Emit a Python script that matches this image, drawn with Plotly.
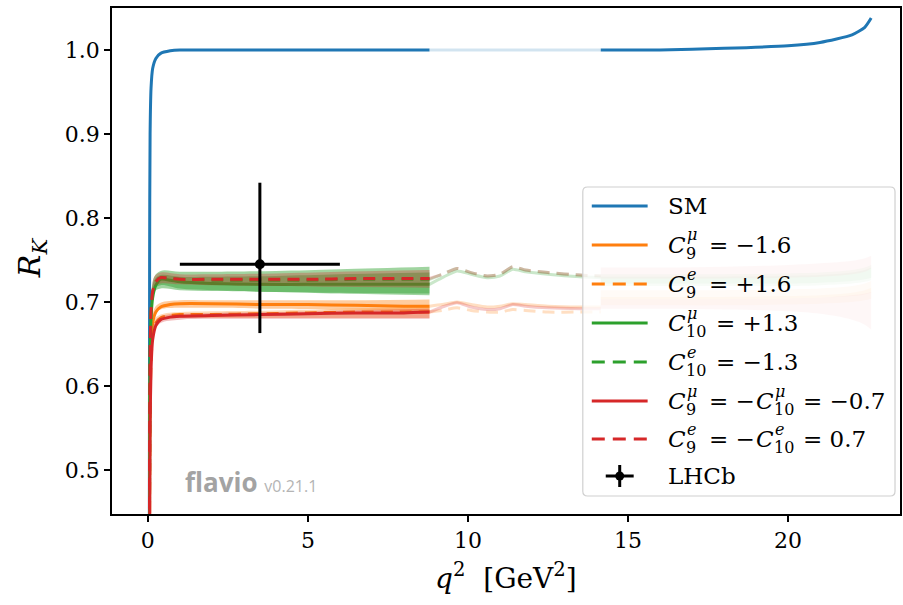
import plotly.graph_objects as go

# ---------------- data ----------------
# low-q2 region (solid lines with bands)
q2_low = [0.045, 0.055, 0.07, 0.1, 0.15, 0.25, 0.4, 0.7, 1.0, 2.0, 3.5, 5.0, 6.5, 8.0, 8.8]
sm_low = [0.35, 0.75, 0.90, 0.955, 0.978, 0.990, 0.996, 0.999, 1.0, 1.0, 1.0, 1.0, 1.0, 1.0, 1.0]
c9mu_low = [0.22, 0.48, 0.60, 0.65, 0.675, 0.688, 0.694, 0.697, 0.698, 0.698, 0.697, 0.697, 0.696, 0.695, 0.695]
c9e_low = [0.20, 0.45, 0.57, 0.63, 0.660, 0.675, 0.681, 0.684, 0.685, 0.685, 0.686, 0.687, 0.688, 0.688, 0.688]
c10mu_low = [0.25, 0.52, 0.63, 0.68, 0.705, 0.720, 0.727, 0.726, 0.724, 0.722, 0.721, 0.721, 0.721, 0.721, 0.721]
c10e_low = [0.25, 0.52, 0.64, 0.69, 0.712, 0.724, 0.729, 0.728, 0.727, 0.726, 0.726, 0.726, 0.727, 0.727, 0.727]
lh_mu_low = [0.15, 0.40, 0.55, 0.62, 0.655, 0.672, 0.679, 0.682, 0.683, 0.684, 0.685, 0.686, 0.687, 0.687, 0.688]
lh_e_low = [0.25, 0.52, 0.64, 0.69, 0.712, 0.724, 0.729, 0.728, 0.727, 0.727, 0.727, 0.727, 0.728, 0.728, 0.728]

# uncertainty bands in the low-q2 region
q2_band = [0.1, 0.2, 0.4, 1.0, 2.0, 4.0, 6.0, 8.8]
c9mu_lo = [0.640, 0.684, 0.691, 0.693, 0.693, 0.692, 0.691, 0.689]
c9mu_hi = [0.660, 0.692, 0.699, 0.702, 0.702, 0.702, 0.702, 0.703]
c9e_lo = [0.620, 0.672, 0.679, 0.681, 0.681, 0.681, 0.681, 0.681]
c9e_hi = [0.640, 0.679, 0.685, 0.688, 0.689, 0.690, 0.692, 0.694]
c10mu_lo = [0.670, 0.712, 0.716, 0.714, 0.713, 0.712, 0.711, 0.710]
c10mu_hi = [0.690, 0.726, 0.732, 0.730, 0.730, 0.731, 0.733, 0.735]
c10e_lo = [0.680, 0.715, 0.720, 0.716, 0.714, 0.712, 0.710, 0.708]
c10e_hi = [0.700, 0.730, 0.737, 0.736, 0.736, 0.737, 0.739, 0.742]
lh_mu_lo = [0.610, 0.666, 0.675, 0.679, 0.680, 0.680, 0.680, 0.680]
lh_mu_hi = [0.630, 0.675, 0.683, 0.686, 0.687, 0.688, 0.690, 0.692]
lh_e_lo = [0.680, 0.718, 0.722, 0.721, 0.720, 0.719, 0.718, 0.717]
lh_e_hi = [0.700, 0.730, 0.735, 0.733, 0.733, 0.734, 0.736, 0.738]

# resonance region (faded central values)
q2_res = [8.8, 9.2, 9.66, 10.1, 10.6, 11.0, 11.4, 11.8, 12.5, 13.5, 14.15]
sm_res = [1.0, 1.0, 1.0, 1.0, 1.0, 1.0, 1.0, 1.0, 1.0, 1.0, 1.0]
c9mu_res = [0.695, 0.697, 0.700, 0.697, 0.694, 0.695, 0.698, 0.697, 0.695, 0.694, 0.694]
c9e_res = [0.688, 0.690, 0.693, 0.690, 0.688, 0.688, 0.691, 0.690, 0.688, 0.688, 0.688]
c10mu_res = [0.721, 0.729, 0.737, 0.733, 0.729, 0.731, 0.739, 0.736, 0.733, 0.730, 0.729]
c10e_res = [0.727, 0.733, 0.740, 0.735, 0.731, 0.733, 0.742, 0.738, 0.735, 0.732, 0.731]
lh_mu_res = [0.688, 0.694, 0.699, 0.694, 0.691, 0.692, 0.697, 0.695, 0.693, 0.692, 0.692]
lh_e_res = [0.728, 0.733, 0.740, 0.735, 0.731, 0.733, 0.742, 0.738, 0.735, 0.732, 0.731]

# high-q2 region
q2_high = [14.15, 16.0, 18.0, 20.0, 21.0, 22.0, 22.4, 22.6]
sm_high = [1.0, 1.0, 1.002, 1.005, 1.009, 1.018, 1.027, 1.038]
c9mu_hlo = [0.703, 0.703, 0.703, 0.704, 0.705, 0.707, 0.709, 0.711]
c9mu_hhi = [0.714, 0.714, 0.714, 0.715, 0.716, 0.719, 0.722, 0.725]
c9e_hlo = [0.696, 0.696, 0.696, 0.697, 0.698, 0.700, 0.702, 0.704]
c9e_hhi = [0.706, 0.706, 0.706, 0.707, 0.708, 0.711, 0.714, 0.717]
c10mu_hlo = [0.719, 0.719, 0.719, 0.719, 0.720, 0.722, 0.724, 0.726]
c10mu_hhi = [0.730, 0.730, 0.730, 0.731, 0.732, 0.735, 0.738, 0.741]
c10e_hlo = [0.722, 0.722, 0.722, 0.722, 0.723, 0.725, 0.727, 0.729]
c10e_hhi = [0.733, 0.733, 0.733, 0.734, 0.735, 0.738, 0.741, 0.744]
lh_mu_hlo = [0.692, 0.692, 0.691, 0.689, 0.686, 0.679, 0.673, 0.667]
lh_mu_hhi = [0.703, 0.703, 0.703, 0.704, 0.705, 0.708, 0.710, 0.712]
lh_e_hlo = [0.728, 0.728, 0.728, 0.729, 0.730, 0.733, 0.736, 0.740]
lh_e_hhi = [0.741, 0.741, 0.742, 0.744, 0.746, 0.749, 0.752, 0.755]

# LHCb measurement in the [1, 6] GeV^2 bin
lhcb_q2 = [3.5]
lhcb_q2_halfwidth = [2.5]
lhcb_rk = [0.745]
lhcb_err_plus = [0.097]
lhcb_err_minus = [0.082]

x_ticks = [0, 5, 10, 15, 20]
y_ticks = [0.5, 0.6, 0.7, 0.8, 0.9, 1.0]

BLUE = (31, 119, 180)
ORANGE = (255, 127, 14)
GREEN = (44, 160, 44)
RED = (214, 39, 40)


def rgba(c, a):
    return f"rgba({c[0]},{c[1]},{c[2]},{a})"


fig = go.Figure()
LW = 3
DASH = "12px,7px"


def add_band(x, lo, hi, color, alpha):
    fig.add_trace(go.Scatter(x=x, y=lo, mode="lines", line=dict(width=0, shape="spline"),
                             hoverinfo="skip", showlegend=False))
    fig.add_trace(go.Scatter(x=x, y=hi, mode="lines", line=dict(width=0, shape="spline"),
                             fill="tonexty", fillcolor=rgba(color, alpha),
                             hoverinfo="skip", showlegend=False))


def add_line(x, y, color, alpha, dash="solid"):
    fig.add_trace(go.Scatter(x=x, y=y, mode="lines",
                             line=dict(color=rgba(color, alpha), width=LW, dash=dash, shape="spline",
                                       smoothing=0.6),
                             hoverinfo="skip", showlegend=False))


# Standard Model
add_line(q2_low, sm_low, BLUE, 1)
add_line(q2_res, sm_res, BLUE, 0.2)
add_line(q2_high, sm_high, BLUE, 1)

series = [
    (c9mu_low, c9mu_res, c9mu_lo, c9mu_hi, c9mu_hlo, c9mu_hhi, ORANGE, "solid", 0.4),
    (c9e_low, c9e_res, c9e_lo, c9e_hi, c9e_hlo, c9e_hhi, ORANGE, DASH, 0.3),
    (c10mu_low, c10mu_res, c10mu_lo, c10mu_hi, c10mu_hlo, c10mu_hhi, GREEN, "solid", 0.45),
    (c10e_low, c10e_res, c10e_lo, c10e_hi, c10e_hlo, c10e_hhi, GREEN, DASH, 0.45),
    (lh_mu_low, lh_mu_res, lh_mu_lo, lh_mu_hi, lh_mu_hlo, lh_mu_hhi, RED, "solid", 0.3),
    (lh_e_low, lh_e_res, lh_e_lo, lh_e_hi, lh_e_hlo, lh_e_hhi, RED, DASH, 0.3),
]
for low, res, lo, hi, hlo, hhi, col, dash, band_alpha in series:
    add_band(q2_band, lo, hi, col, band_alpha)
    add_line(q2_low, low, col, 1, dash)
    add_line(q2_res, res, col, 0.25, dash)
    add_band(q2_high, hlo, hhi, col, 0.18)

# LHCb data point
fig.add_trace(go.Scatter(
    x=lhcb_q2, y=lhcb_rk, mode="markers",
    marker=dict(color="black", size=10),
    error_x=dict(type="data", array=lhcb_q2_halfwidth, color="black", thickness=3, width=0),
    error_y=dict(type="data", symmetric=False, array=lhcb_err_plus, arrayminus=lhcb_err_minus,
                 color="black", thickness=3, width=0),
    hoverinfo="skip", showlegend=False))

# ---------------- layout ----------------
W, H = 903, 605
L, R, T, B = 112, 902, 8, 514


def px(x):
    return (x - L) / (R - L)


def py(y):
    return (B - y) / (B - T)


SERIF = "DejaVu Serif"
axis_common = dict(showline=True, linecolor="black", linewidth=1.5, mirror=True,
                   ticks="outside", ticklen=6, tickwidth=1.5, tickcolor="black",
                   showgrid=False, zeroline=False,
                   tickfont=dict(family=SERIF, size=22, color="black"))

fig.update_layout(
    width=W, height=H,
    margin=dict(l=L, r=W - R, t=T, b=H - B),
    paper_bgcolor="white", plot_bgcolor="white",
    font=dict(family=SERIF, size=22, color="black"),
    showlegend=False,
    xaxis=dict(range=[-1.12, 23.5], tickvals=x_ticks, **axis_common),
    yaxis=dict(range=[0.4476, 1.05], tickvals=y_ticks, tickformat=".1f", **axis_common),
)

shapes = []
annotations = []

# axis titles
annotations.append(dict(text="<i>q</i><sup>2</sup>&nbsp;&nbsp;[GeV<sup>2</sup>]", x=px(507), y=py(576),
                        xref="paper", yref="paper", showarrow=False,
                        xanchor="center", yanchor="middle",
                        font=dict(family=SERIF, size=28, color="black")))
annotations.append(dict(text="<i>R</i><sub><i>K</i></sub>", x=px(31), y=py(258),
                        xref="paper", yref="paper", showarrow=False, textangle=-90,
                        xanchor="center", yanchor="middle",
                        font=dict(family=SERIF, size=30, color="black")))

# watermark
annotations.append(dict(text="<b>flavio</b> <span style='font-size:16px;color:#b4b4b4'>v0.21.1</span>",
                        x=px(183), y=py(482), xref="paper", yref="paper", showarrow=False,
                        xanchor="left", yanchor="middle",
                        font=dict(family="Open Sans", size=26, color="#a3a3a3")))

# legend frame (rounded corners)
x0, x1, y0, y1, r = px(584), px(897), py(187), py(496), 0.006
rx = r
ry = r * (R - L) / (B - T)
path = (f"M{x0 + rx},{y0} L{x1 - rx},{y0} Q{x1},{y0} {x1},{y0 - ry} "
        f"L{x1},{y1 + ry} Q{x1},{y1} {x1 - rx},{y1} L{x0 + rx},{y1} "
        f"Q{x0},{y1} {x0},{y1 + ry} L{x0},{y0 - ry} Q{x0},{y0} {x0 + rx},{y0} Z")
shapes.append(dict(type="path", path=path, xref="paper", yref="paper", layer="above",
                   fillcolor="rgba(255,255,255,0.8)", line=dict(color="#d0d0d0", width=1.2)))

rows = [206, 245, 284, 323, 362, 401, 439, 476]
sw_x0, sw_x1 = 593, 649
legend_styles = [(BLUE, False), (ORANGE, False), (ORANGE, True), (GREEN, False),
                 (GREEN, True), (RED, False), (RED, True)]
for yc, (col, dashed) in zip(rows, legend_styles):
    shapes.append(dict(type="line", xref="paper", yref="paper", layer="above",
                       x0=px(sw_x0), x1=px(sw_x1), y0=py(yc), y1=py(yc),
                       line=dict(color=rgba(col, 1), width=LW, dash=("13px,8px" if dashed else "solid"))))

# LHCb legend symbol
yc = rows[7]
shapes.append(dict(type="line", xref="paper", yref="paper", layer="above",
                   x0=px(607), x1=px(635), y0=py(yc), y1=py(yc), line=dict(color="black", width=3)))
shapes.append(dict(type="line", xref="paper", yref="paper", layer="above",
                   x0=px(621), x1=px(621), y0=py(yc - 11), y1=py(yc + 11), line=dict(color="black", width=3)))
shapes.append(dict(type="circle", xref="paper", yref="paper", layer="above",
                   x0=px(616.5), x1=px(625.5), y0=py(yc - 4.5), y1=py(yc + 4.5),
                   fillcolor="black", line=dict(color="black", width=0)))

TX = 667
BIG, SMALL = 23, 16


def piece(text, x, y, size):
    annotations.append(dict(text=text, x=px(x), y=py(y), xref="paper", yref="paper",
                            showarrow=False, xanchor="left", yanchor="middle",
                            font=dict(family=SERIF, size=size, color="black")))


def coeff(x, y, idx, lep):
    piece("<i>C</i>", x, y, BIG)
    piece(f"<i>{lep}</i>", x + 19, y - 10, SMALL)
    piece(idx, x + 18, y + 8, SMALL)


piece("SM", TX, rows[0], BIG)
coeff(TX, rows[1], "9", "μ"); piece("= −1.6", 709, rows[1], BIG)
coeff(TX, rows[2], "9", "e"); piece("= +1.6", 709, rows[2], BIG)
coeff(TX, rows[3], "10", "μ"); piece("= +1.3", 716, rows[3], BIG)
coeff(TX, rows[4], "10", "e"); piece("= −1.3", 716, rows[4], BIG)
coeff(TX, rows[5], "9", "μ"); piece("= −", 709, rows[5], BIG)
coeff(756, rows[5], "10", "μ"); piece("= −0.7", 803, rows[5], BIG)
coeff(TX, rows[6], "9", "e"); piece("= −", 709, rows[6], BIG)
coeff(756, rows[6], "10", "e"); piece("= 0.7", 803, rows[6], BIG)
piece("LHCb", TX, rows[7], BIG)

fig.update_layout(shapes=shapes, annotations=annotations)
fig.write_html("out.html")
